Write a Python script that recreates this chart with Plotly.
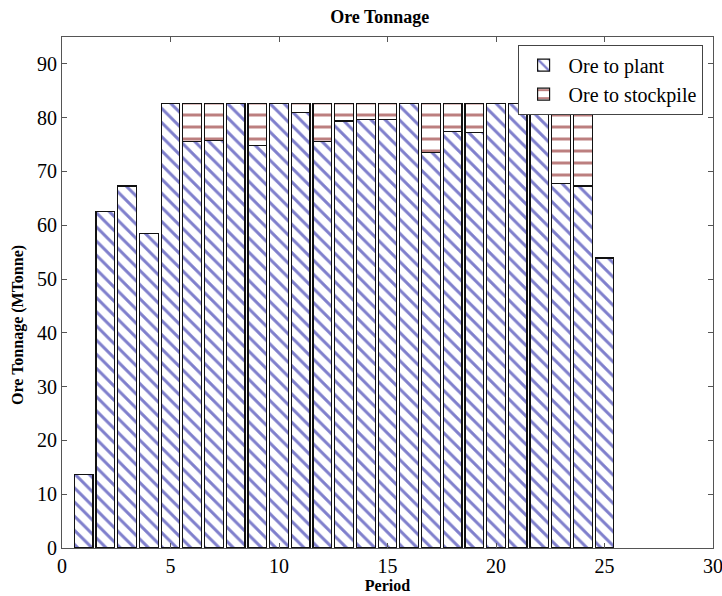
import plotly.graph_objects as go

periods = list(range(1, 26))
ore_to_plant = [13.6, 62.6, 67.3, 58.4, 82.6, 75.5, 75.7, 82.6, 74.9, 82.6,
                81.0, 75.5, 79.4, 79.7, 79.7, 82.6, 73.5, 77.4, 77.3, 82.6,
                82.6, 82.6, 67.7, 67.3, 53.9]
ore_to_stockpile = [None, None, None, None, None, 7.1, 6.9, None, 7.7, None,
                    1.6, 7.1, 3.2, 2.9, 2.9, None, 9.1, 5.2, 5.3, None,
                    None, None, 14.9, 15.3, None]

FONT = "Liberation Serif, Times New Roman, serif"

fig = go.Figure()
fig.add_trace(go.Bar(
    x=periods, y=ore_to_plant, name="Ore to plant", width=0.86,
    marker=dict(color="white", line=dict(color="#111", width=1.2),
                pattern=dict(shape="\\", fgcolor="#00009a", bgcolor="white",
                             size=10, solidity=0.3)),
))
fig.add_trace(go.Bar(
    x=periods, y=ore_to_stockpile, name="Ore to stockpile", width=0.86,
    marker=dict(color="white", line=dict(color="#111", width=1.2),
                pattern=dict(shape="-", fgcolor="#7a0000", bgcolor="white",
                             size=12, solidity=0.25)),
))

axis_common = dict(showline=True, linecolor="#555", linewidth=1, mirror="ticks",
                   ticks="inside", ticklen=5, tickcolor="#555", showgrid=False,
                   zeroline=False, automargin=False, ticklabeloverflow="allow",
                   tickfont=dict(family=FONT, size=20, color="black"))

fig.update_layout(
    barmode="stack",
    width=722, height=596,
    paper_bgcolor="white", plot_bgcolor="white",
    margin=dict(l=62, r=9, t=37, b=48),
    font=dict(family=FONT, color="black"),
    title=dict(text="<b>Ore Tonnage</b>", x=0.526, xanchor="center", y=0.972,
               yanchor="middle", font=dict(family=FONT, size=18)),
    xaxis=dict(range=[0, 30], tickvals=[0, 5, 10, 15, 20, 25, 30],
               title=dict(text="<b>Period</b>", font=dict(family=FONT, size=16),
                          standoff=2),
               **axis_common),
    yaxis=dict(range=[0, 95], tickvals=list(range(0, 100, 10)),
               **axis_common),
    legend=dict(x=0.984, y=0.985, xanchor="right", yanchor="top",
                bgcolor="white", bordercolor="#444", borderwidth=1,
                font=dict(family=FONT, size=20), traceorder="normal",
                itemwidth=40, tracegroupgap=0),
    showlegend=True,
    annotations=[dict(text="<b>Ore Tonnage (MTonne)</b>", textangle=-90,
                      xref="paper", yref="paper", x=-0.068, y=0.436,
                      xanchor="center", yanchor="middle", showarrow=False,
                      font=dict(family=FONT, size=16))],
)

fig.write_html("out.html")
